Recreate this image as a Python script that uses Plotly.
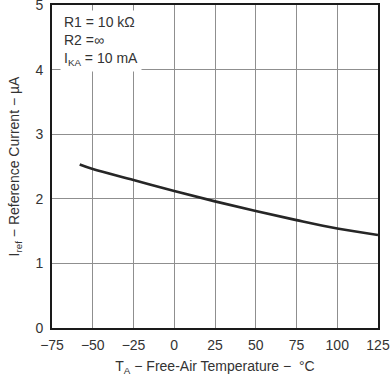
import plotly.graph_objects as go

temp_c = [-58, -50, -25, 0, 25, 50, 75, 100, 125]
iref_ua = [2.53, 2.46, 2.29, 2.12, 1.96, 1.81, 1.67, 1.54, 1.44]

x_ticks = [-75, -50, -25, 0, 25, 50, 75, 100, 125]
x_tick_labels = ["\u221275", "\u221250", "\u221225", "0", "25", "50", "75", "100", "125"]
y_ticks = [0, 1, 2, 3, 4, 5]

fig = go.Figure()
fig.add_trace(go.Scatter(x=temp_c, y=iref_ua, mode="lines",
                         line=dict(color="#262626", width=2.6, shape="spline"),
                         showlegend=False, hoverinfo="skip"))

font = dict(family="Liberation Sans, Arial, sans-serif", size=14, color="#333333")

fig.update_layout(
    width=390, height=376,
    margin=dict(l=52, r=12, t=5, b=48),
    paper_bgcolor="white", plot_bgcolor="white",
    font=font,
    xaxis=dict(range=[-75, 125], tickvals=x_ticks, ticktext=x_tick_labels,
               showgrid=True, gridcolor="#8f8f8f", gridwidth=1,
               showline=True, linecolor="#1a1a1a", linewidth=1.8, mirror=True,
               ticks="", zeroline=False, ticklabeloverflow="allow",
               automargin=False, ticklabelstandoff=3,
               title=dict(text="T<sub>A</sub> \u2212 Free-Air Temperature \u2212  \u00b0C",
                          font=font, standoff=11)),
    yaxis=dict(range=[0, 5], tickvals=y_ticks,
               showgrid=True, gridcolor="#8f8f8f", gridwidth=1,
               showline=True, linecolor="#1a1a1a", linewidth=1.8, mirror=True,
               ticks="", zeroline=False, ticklabeloverflow="allow",
               automargin=False, ticklabelstandoff=4,
               title=dict(text="I<sub>ref</sub> \u2212 Reference Current \u2212 \u00b5A",
                          font=font, standoff=13)),
)

fig.add_annotation(
    x=-70, y=4.93, xref="x", yref="y", xanchor="left", yanchor="top",
    text="R1 = 10 k\u03a9<br>R2 =\u221e<br>I<sub>KA</sub> = 10 mA",
    showarrow=False, align="left", bgcolor="white",
    font=font, borderpad=3,
)

fig.write_html("out.html",
               config={"displayModeBar": False, "staticPlot": True},
               post_script="document.body.style.margin='0';document.body.style.overflow='hidden';")
